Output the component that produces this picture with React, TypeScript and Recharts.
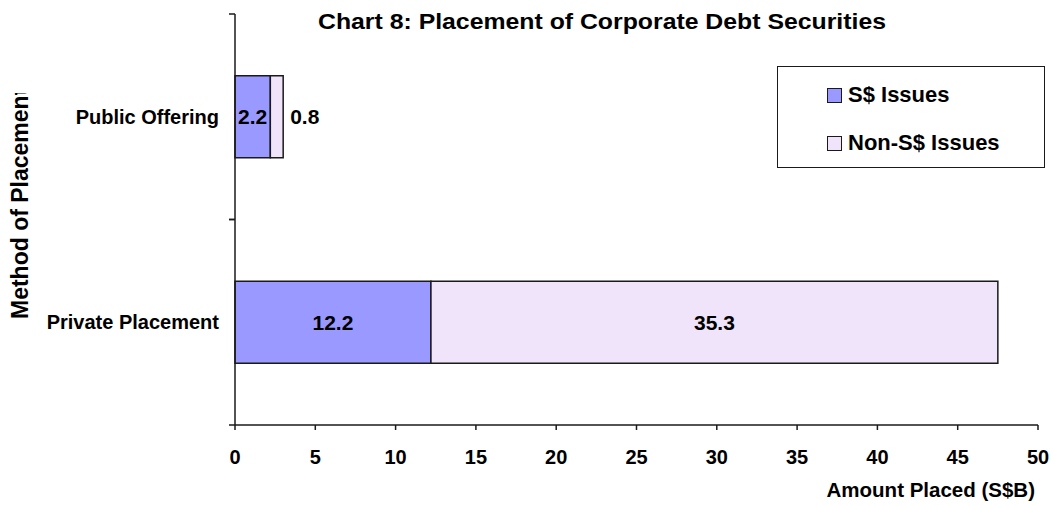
import React from "react";
import { BarChart, Bar, XAxis, YAxis, Legend, LabelList } from "recharts";

const categories = ["Public Offering", "Private Placement"];
const sgdIssues = [2.2, 12.2];
const nonSgdIssues = [0.8, 35.3];
const seriesNames = ["S$ Issues", "Non-S$ Issues"];
const xTicks = [0, 5, 10, 15, 20, 25, 30, 35, 40, 45, 50];

const data = categories.map((name, i) => ({
  name,
  sgd: sgdIssues[i],
  nonSgd: nonSgdIssues[i],
}));

const FONT = "'Liberation Sans', Arial, sans-serif";
const SGD_COLOR = "#9999FF";
const NON_SGD_COLOR = "#F0E4FB";
const INK = "#1a1a1a";
const TICK_SIZE = 6;
const TICK_MARGIN = 10;

function CategoryTick(props: any) {
  const { x, y, payload } = props;
  const half = payload && payload.offset ? payload.offset : 102.75;
  const lx = x + TICK_MARGIN;
  return (
    <g>
      <line x1={lx} x2={lx + TICK_SIZE} y1={y - half} y2={y - half} stroke={INK} strokeWidth={1.5} />
      <line x1={lx} x2={lx + TICK_SIZE} y1={y + half} y2={y + half} stroke={INK} strokeWidth={1.5} />
      <text
        x={x}
        y={y}
        dy="0.36em"
        textAnchor="end"
        fontFamily={FONT}
        fontWeight={700}
        fontSize={20}
        fill="#000"
      >
        {payload.value}
      </text>
    </g>
  );
}

function CenterLabel(props: any) {
  const { x, y, width, height, value } = props;
  const small = width < 30;
  return (
    <text
      x={small ? x + width + 7 : x + width / 2}
      y={y + height / 2}
      dy="0.36em"
      textAnchor={small ? "start" : "middle"}
      fontFamily={FONT}
      fontWeight={700}
      fontSize={21}
      fill="#000"
    >
      {value}
    </text>
  );
}

function LegendBox() {
  const colors = [SGD_COLOR, NON_SGD_COLOR];
  return (
    <div
      style={{
        position: "relative",
        width: 268,
        height: 102,
        border: `1.5px solid ${INK}`,
        boxSizing: "border-box",
        background: "#fff",
        fontFamily: FONT,
        fontWeight: 700,
        fontSize: 22,
        color: "#000",
      }}
    >
      {seriesNames.map((n, i) => (
        <div key={n}>
          <div
            style={{
              position: "absolute",
              left: 49,
              top: 21 + i * 48,
              width: 13,
              height: 13,
              background: colors[i],
              border: `1.5px solid ${INK}`,
            }}
          />
          <div
            style={{
              position: "absolute",
              left: 70,
              top: 15 + i * 48,
              lineHeight: "26px",
              whiteSpace: "nowrap",
            }}
          >
            {n}
          </div>
        </div>
      ))}
    </div>
  );
}

export default function App() {
  return (
    <div style={{ position: "absolute", left: 0, top: 0, width: 1053, height: 506, background: "#fff" }}>
      <BarChart
        width={1053}
        height={506}
        data={data}
        layout="vertical"
        margin={{ top: 14, right: 15, bottom: 41, left: 0 }}
        barCategoryGap="30%"
      >
        <XAxis
          type="number"
          domain={[0, 50]}
          ticks={xTicks}
          interval={0}
          height={40}
          stroke={INK}
          strokeWidth={1.5}
          tickSize={5}
          tickMargin={20}
          tick={{ fill: "#000", fontFamily: FONT, fontWeight: 700, fontSize: 20 }}
        />
        <YAxis
          type="category"
          dataKey="name"
          width={235}
          stroke={INK}
          strokeWidth={1.5}
          tickLine={false}
          tickSize={TICK_SIZE}
          tickMargin={TICK_MARGIN}
          tick={<CategoryTick />}
          interval={0}
        />
        <Legend
          layout="horizontal"
          verticalAlign="middle"
          align="center"
          wrapperStyle={{ left: 777, top: 66, width: 268, height: 102 }}
          content={() => <LegendBox />}
        />
        <Bar
          dataKey="sgd"
          name={seriesNames[0]}
          stackId="a"
          fill={SGD_COLOR}
          stroke={INK}
          strokeWidth={1.5}
          isAnimationActive={false}
        >
          <LabelList dataKey="sgd" content={<CenterLabel />} />
        </Bar>
        <Bar
          dataKey="nonSgd"
          name={seriesNames[1]}
          stackId="a"
          fill={NON_SGD_COLOR}
          stroke={INK}
          strokeWidth={1.5}
          isAnimationActive={false}
        >
          <LabelList dataKey="nonSgd" content={<CenterLabel />} />
        </Bar>
      </BarChart>
      <svg
        width={1053}
        height={506}
        style={{ position: "absolute", left: 0, top: 0, pointerEvents: "none" }}
      >
        <defs>
          <clipPath id="ylabel-clip">
            <rect x={0} y={93} width={60} height={413} />
          </clipPath>
        </defs>
        <text
          x={602}
          y={29}
          textAnchor="middle"
          fontFamily={FONT}
          fontWeight={700}
          fontSize={22}
          textLength={568}
          lengthAdjust="spacingAndGlyphs"
          fill="#000"
        >
          Chart 8: Placement of Corporate Debt Securities
        </text>
        <g clipPath="url(#ylabel-clip)">
          <text
            transform="translate(28,319) rotate(-90)"
            textAnchor="start"
            fontFamily={FONT}
            fontWeight={700}
            fontSize={23}
            fill="#000"
          >
            Method of Placement
          </text>
        </g>
        <text
          x={1035}
          y={497}
          textAnchor="end"
          fontFamily={FONT}
          fontWeight={700}
          fontSize={20.5}
          fill="#000"
        >
          Amount Placed (S$B)
        </text>
      </svg>
    </div>
  );
}
